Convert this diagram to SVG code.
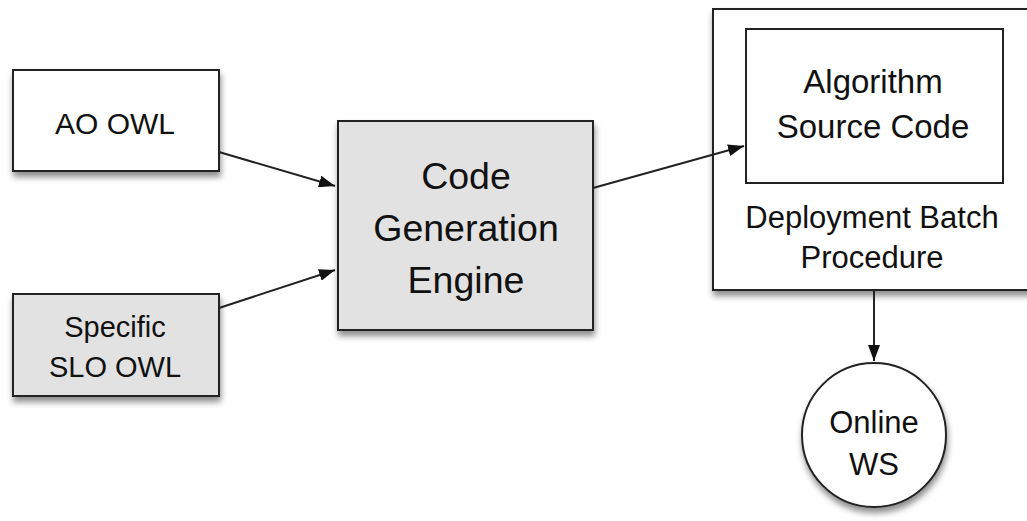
<svg xmlns="http://www.w3.org/2000/svg" width="1027" height="521" viewBox="0 0 1027 521">
<style>
.box{stroke:#222;stroke-width:2}
.w{fill:#fff}
.g{fill:#e2e2e2}
.t{font-family:"Liberation Sans",Arial,sans-serif;fill:#111;text-anchor:middle}
.c{stroke:#222;stroke-width:2;fill:none;marker-end:url(#ah)}
</style>
<defs>
<filter id="sh" x="-10%" y="-10%" width="130%" height="140%">
<feDropShadow dx="1" dy="5" stdDeviation="3" flood-color="#000" flood-opacity="0.45"/>
</filter>
<marker id="ah" viewBox="0 0 16 12" refX="16" refY="6" markerWidth="8" markerHeight="6" orient="auto" markerUnits="strokeWidth">
<path d="M0,0 L16,6 L0,12 z" fill="#111"/>
</marker>
</defs>
<rect width="1027" height="521" fill="#fff"/>
<g id="ao-owl">
<rect class="box w" x="13" y="70" width="206" height="101" filter="url(#sh)"/>
<text class="t" x="115" y="134" font-size="30">AO OWL</text>
</g>
<g id="slo-owl">
<rect class="box g" x="13" y="294" width="206" height="102" filter="url(#sh)"/>
<text class="t" x="115" y="337" font-size="29">Specific</text>
<text class="t" x="115" y="377" font-size="29">SLO OWL</text>
</g>
<g id="engine">
<rect class="box g" x="338" y="121" width="255" height="209" filter="url(#sh)"/>
<text class="t" x="466" y="189" font-size="37.5">Code</text>
<text class="t" x="466" y="241" font-size="37.5">Generation</text>
<text class="t" x="466" y="293" font-size="37.5">Engine</text>
</g>
<g id="deployment">
<rect class="box w" x="713" y="9" width="330" height="281" filter="url(#sh)"/>
<text class="t" x="872" y="228" font-size="31">Deployment Batch</text>
<text class="t" x="872" y="268" font-size="31">Procedure</text>
</g>
<g id="algorithm">
<rect class="box w" x="746" y="29" width="257" height="154"/>
<text class="t" x="873" y="93" font-size="33">Algorithm</text>
<text class="t" x="873" y="138" font-size="33">Source Code</text>
</g>
<g id="online-ws">
<circle class="box w" cx="874" cy="435" r="72" filter="url(#sh)"/>
<text class="t" x="874" y="433" font-size="31">Online</text>
<text class="t" x="874" y="475" font-size="31">WS</text>
</g>
<g id="connectors">
<line class="c" x1="219" y1="152" x2="335" y2="186"/>
<line class="c" x1="219" y1="308" x2="335" y2="270"/>
<line class="c" x1="593" y1="188" x2="744" y2="146"/>
<line class="c" x1="874" y1="290" x2="874" y2="361"/>
</g>
</svg>
